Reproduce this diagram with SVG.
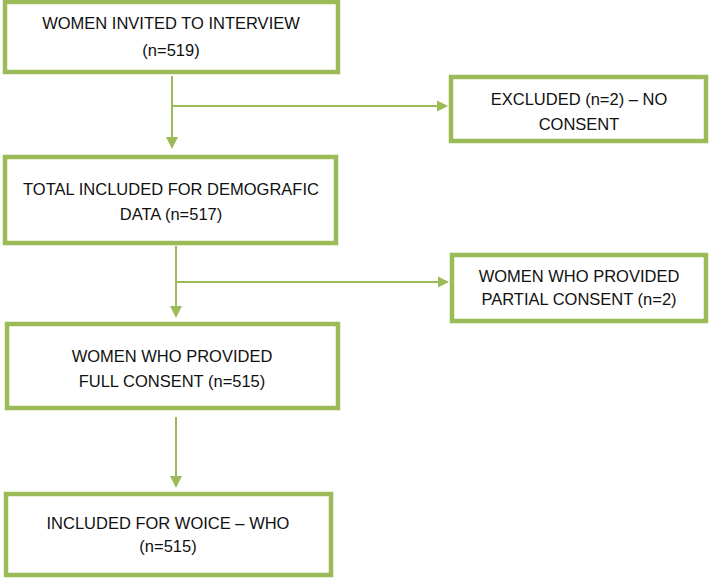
<svg xmlns="http://www.w3.org/2000/svg" width="713" height="578" viewBox="0 0 713 578">
<style>
.box{fill:#fff;stroke:#9BBB59;stroke-width:4.5}
.t{font-family:"Liberation Sans",Arial,sans-serif;font-size:16.5px;fill:#111;text-anchor:middle}
.ln{stroke:#9BBB59;stroke-width:2;fill:none}
.ah{fill:#9BBB59}
</style>
<rect width="713" height="578" fill="#fff"/>
<g id="connectors">
<line class="ln" x1="172" y1="76" x2="172" y2="137"/>
<polygon class="ah" points="166,137 178,137 172,149"/>
<line class="ln" x1="172" y1="106" x2="438" y2="106"/>
<polygon class="ah" points="437,100.5 437,111.5 448,106"/>
<line class="ln" x1="176" y1="246" x2="176" y2="307"/>
<polygon class="ah" points="170,306 182,306 176,318"/>
<line class="ln" x1="176" y1="282" x2="439" y2="282"/>
<polygon class="ah" points="438,276.5 438,287.5 449,282"/>
<line class="ln" x1="176" y1="417" x2="176" y2="477"/>
<polygon class="ah" points="170,476 182,476 176,488"/>
</g>
<g id="n1">
<rect class="box" x="5" y="2" width="333" height="70"/>
<text class="t" x="171" y="29">WOMEN INVITED TO INTERVIEW</text>
<text class="t" x="171" y="56">(n=519)</text>
</g>
<g id="n2">
<rect class="box" x="451" y="77" width="255" height="64"/>
<text class="t" x="579" y="105">EXCLUDED (n=2) – NO</text>
<text class="t" x="579" y="130">CONSENT</text>
</g>
<g id="n3">
<rect class="box" x="5" y="157" width="331" height="86"/>
<text class="t" x="171" y="195">TOTAL INCLUDED FOR DEMOGRAFIC</text>
<text class="t" x="171" y="220">DATA (n=517)</text>
</g>
<g id="n4">
<rect class="box" x="452" y="255" width="254" height="66"/>
<text class="t" x="579" y="282">WOMEN WHO PROVIDED</text>
<text class="t" x="579" y="305">PARTIAL CONSENT (n=2)</text>
</g>
<g id="n5">
<rect class="box" x="7" y="324" width="331" height="84"/>
<text class="t" x="172" y="362">WOMEN WHO PROVIDED</text>
<text class="t" x="172" y="387">FULL CONSENT (n=515)</text>
</g>
<g id="n6">
<rect class="box" x="6" y="494" width="325" height="81"/>
<text class="t" x="168" y="529">INCLUDED FOR WOICE – WHO</text>
<text class="t" x="168" y="552">(n=515)</text>
</g>
</svg>
